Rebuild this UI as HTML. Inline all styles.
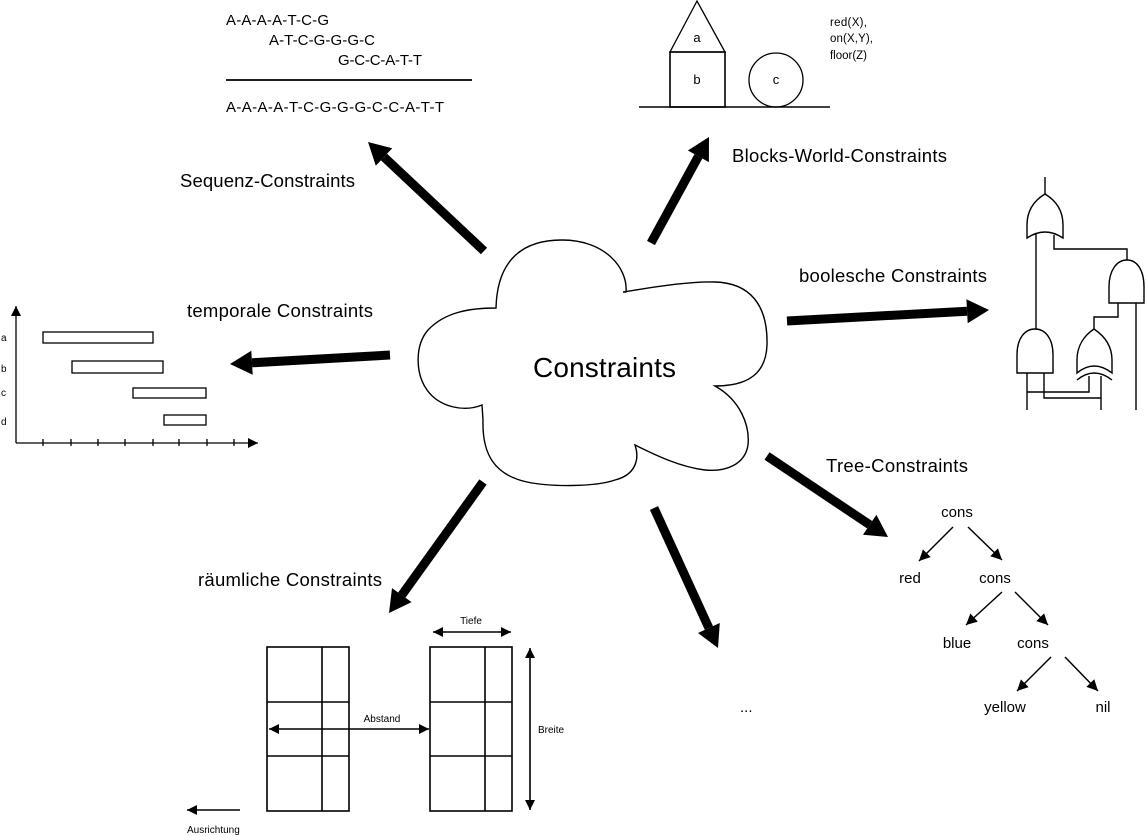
<!DOCTYPE html>
<html><head><meta charset="utf-8"><style>
html,body{margin:0;padding:0;background:#fff;}
svg{display:block;}
text{font-family:"Liberation Sans",Arial,sans-serif;fill:#000;}
</style></head><body>
<svg width="1146" height="836" viewBox="0 0 1146 836" xmlns="http://www.w3.org/2000/svg">
<defs>
<marker id="ah" viewBox="0 0 10 10" refX="10" refY="5" markerWidth="11" markerHeight="10" markerUnits="userSpaceOnUse" orient="auto-start-reverse">
<path d="M0,0 L10,5 L0,10 z" fill="#000"/>
</marker>
<marker id="ah2" viewBox="0 0 10 10" refX="10" refY="5" markerWidth="13" markerHeight="11" markerUnits="userSpaceOnUse" orient="auto-start-reverse">
<path d="M0,0 L10,5 L0,10 z" fill="#000"/>
</marker>
</defs>

<!-- Sequence -->
<text x="226" y="25" font-size="15" textLength="103">A-A-A-A-T-C-G</text>
<text x="269" y="45" font-size="15" textLength="106">A-T-C-G-G-G-C</text>
<text x="338" y="65" font-size="15" textLength="84">G-C-C-A-T-T</text>
<line x1="226" y1="80" x2="472" y2="80" stroke="#000" stroke-width="1.8"/>
<text x="226" y="112" font-size="15" textLength="218">A-A-A-A-T-C-G-G-G-C-C-A-T-T</text>

<!-- Blocks world -->
<path d="M697,1 L670,52 L725,52 Z" fill="none" stroke="#000" stroke-width="1.3"/>
<rect x="670" y="52" width="55" height="55" fill="none" stroke="#000" stroke-width="1.6"/>
<circle cx="776" cy="80" r="27" fill="none" stroke="#000" stroke-width="1.3"/>
<line x1="639" y1="107" x2="830" y2="107" stroke="#000" stroke-width="1.6"/>
<text x="697" y="42" font-size="13" text-anchor="middle">a</text>
<text x="697" y="84" font-size="13" text-anchor="middle">b</text>
<text x="776" y="84" font-size="13" text-anchor="middle">c</text>
<text x="830" y="26" font-size="11.5" textLength="37">red(X),</text>
<text x="830" y="42" font-size="11.5" textLength="43">on(X,Y),</text>
<text x="830" y="59" font-size="11.5" textLength="37">floor(Z)</text>

<!-- Labels -->
<text x="180" y="187" font-size="18.5" textLength="175">Sequenz-Constraints</text>
<text x="732" y="162" font-size="18.5" textLength="215">Blocks-World-Constraints</text>
<text x="799" y="282" font-size="18.5" textLength="188">boolesche Constraints</text>
<text x="187" y="317" font-size="18.5" textLength="186">temporale Constraints</text>
<text x="826" y="472" font-size="18.5" textLength="142">Tree-Constraints</text>
<text x="198" y="586" font-size="18.5" textLength="184">räumliche Constraints</text>

<!-- Cloud -->
<path d="M496,308 C497,268 515,240 562,240 C605,240 628,268 626,292 L623,292 C655,287 690,281 715,282 C750,283 768,305 767,345 C766,372 750,386 715,386 C740,400 750,425 748,445 C745,465 725,472 705,470 C680,467 655,455 635,445 C640,460 635,475 615,480 C595,487 550,487 527,482 C495,475 482,455 483,420 L482,405 C465,412 440,408 427,390 C415,373 415,345 428,330 C445,312 470,308 496,308 Z" fill="#fff" stroke="#000" stroke-width="1.4"/>
<text x="533" y="377" font-size="28" textLength="143">Constraints</text>

<!-- Thick arrows -->
<g fill="#000" stroke="#000">
<line x1="484" y1="251" x2="384" y2="157" stroke-width="9"/>
<polygon points="368,142 392.2,148.3 375.8,165.8" stroke="none"/>
<line x1="651" y1="243" x2="698.4" y2="156.3" stroke-width="9"/>
<polygon points="709,137 708.9,162.1 687.9,150.5" stroke="none"/>
<line x1="787" y1="321" x2="967" y2="311.2" stroke-width="9"/>
<polygon points="989,310 967.7,323.2 966.4,299.2" stroke="none"/>
<line x1="390" y1="355" x2="252" y2="362.8" stroke-width="9"/>
<polygon points="230,364 251.3,350.8 252.7,374.8" stroke="none"/>
<line x1="767" y1="456" x2="869.7" y2="524.8" stroke-width="9"/>
<polygon points="888,537 863,534.8 876.4,514.8" stroke="none"/>
<line x1="483" y1="482" x2="401.8" y2="595.1" stroke-width="9"/>
<polygon points="389,613 411.6,602.1 392,588.1" stroke="none"/>
<line x1="654" y1="508" x2="708.9" y2="628" stroke-width="9"/>
<polygon points="718,648 698,633 719.8,623" stroke="none"/>
</g>

<!-- Boolean circuit -->
<g fill="none" stroke="#000" stroke-width="1.4">
<path d="M1027,238 L1027,225 C1027,210 1035,200 1045,194 C1055,200 1063,210 1063,225 L1063,238 Q1045,226 1027,238 Z"/>
<path d="M1109,303 L1109,287 C1109,270 1117,260 1127,260 C1137,260 1144,270 1144,287 L1144,303 Z"/>
<path d="M1017,373 L1017,355 C1017,338 1025,329 1035,329 C1045,329 1053,338 1053,355 L1053,373 Z"/>
<path d="M1077,373 L1077,360 C1077,345 1085,335 1094,329 C1103,335 1112,345 1112,360 L1112,373 Q1094,359 1077,373 Z"/>
<path d="M1077,380 Q1094,366 1112,380"/>
<polyline points="1045,177 1045,194"/>
<polyline points="1036,233 1036,329"/>
<polyline points="1054,235 1054,249 1127,249 1127,260"/>
<polyline points="1118,303 1118,317 1094,317 1094,329"/>
<polyline points="1136,303 1136,410"/>
<polyline points="1027,373 1027,410"/>
<polyline points="1027,392 1089,392 1089,376"/>
<polyline points="1044,373 1044,398 1101,398"/>
<polyline points="1101,376 1101,410"/>
</g>

<!-- Temporal chart -->
<g stroke="#000" fill="none" stroke-width="1.3">
<line x1="16" y1="443" x2="16" y2="306" marker-end="url(#ah)"/>
<line x1="16" y1="443" x2="258" y2="443" marker-end="url(#ah)"/>
<path d="M43,439V446M71,439V446M98,439V446M125,439V446M153,439V446M179,439V446M207,439V446M234,439V446"/>
<rect x="43" y="332" width="110" height="11"/>
<rect x="72" y="361" width="91" height="12"/>
<rect x="133" y="388" width="73" height="10"/>
<rect x="164" y="415" width="42" height="10"/>
</g>
<text x="1" y="341" font-size="10">a</text>
<text x="1" y="372" font-size="10">b</text>
<text x="1" y="396" font-size="10">c</text>
<text x="1" y="425" font-size="10">d</text>

<!-- Tree -->
<g font-size="15" text-anchor="middle">
<text x="957" y="517">cons</text>
<text x="910" y="583">red</text>
<text x="995" y="583">cons</text>
<text x="957" y="648">blue</text>
<text x="1033" y="648">cons</text>
<text x="1005" y="712">yellow</text>
<text x="1103" y="712">nil</text>
</g>
<g stroke="#000" stroke-width="1.5">
<line x1="953" y1="527" x2="919" y2="561" marker-end="url(#ah2)"/>
<line x1="968" y1="527" x2="1002" y2="560" marker-end="url(#ah2)"/>
<line x1="1002" y1="592" x2="966" y2="625" marker-end="url(#ah2)"/>
<line x1="1015" y1="592" x2="1048" y2="625" marker-end="url(#ah2)"/>
<line x1="1051" y1="657" x2="1017" y2="691" marker-end="url(#ah2)"/>
<line x1="1065" y1="657" x2="1098" y2="691" marker-end="url(#ah2)"/>
</g>

<!-- Spatial -->
<g stroke="#000" fill="none" stroke-width="1.6">
<rect x="267" y="647" width="82" height="164"/>
<line x1="322" y1="647" x2="322" y2="811"/>
<line x1="267" y1="702" x2="349" y2="702"/>
<line x1="267" y1="756" x2="349" y2="756"/>
<rect x="430" y="647" width="82" height="164"/>
<line x1="485" y1="647" x2="485" y2="811"/>
<line x1="430" y1="702" x2="512" y2="702"/>
<line x1="430" y1="756" x2="512" y2="756"/>
<line x1="433" y1="632" x2="511" y2="632" marker-start="url(#ah)" marker-end="url(#ah)"/>
<line x1="269" y1="729" x2="429" y2="729" marker-start="url(#ah)" marker-end="url(#ah)"/>
<line x1="530" y1="648" x2="530" y2="810" marker-start="url(#ah)" marker-end="url(#ah)"/>
<line x1="240" y1="810" x2="187" y2="810" marker-end="url(#ah)"/>
</g>
<text x="471" y="624" font-size="10" text-anchor="middle">Tiefe</text>
<text x="382" y="722" font-size="10" text-anchor="middle">Abstand</text>
<text x="538" y="733" font-size="10">Breite</text>
<text x="187" y="833" font-size="10">Ausrichtung</text>

<text x="740" y="712" font-size="15">...</text>
</svg>
</body></html>
